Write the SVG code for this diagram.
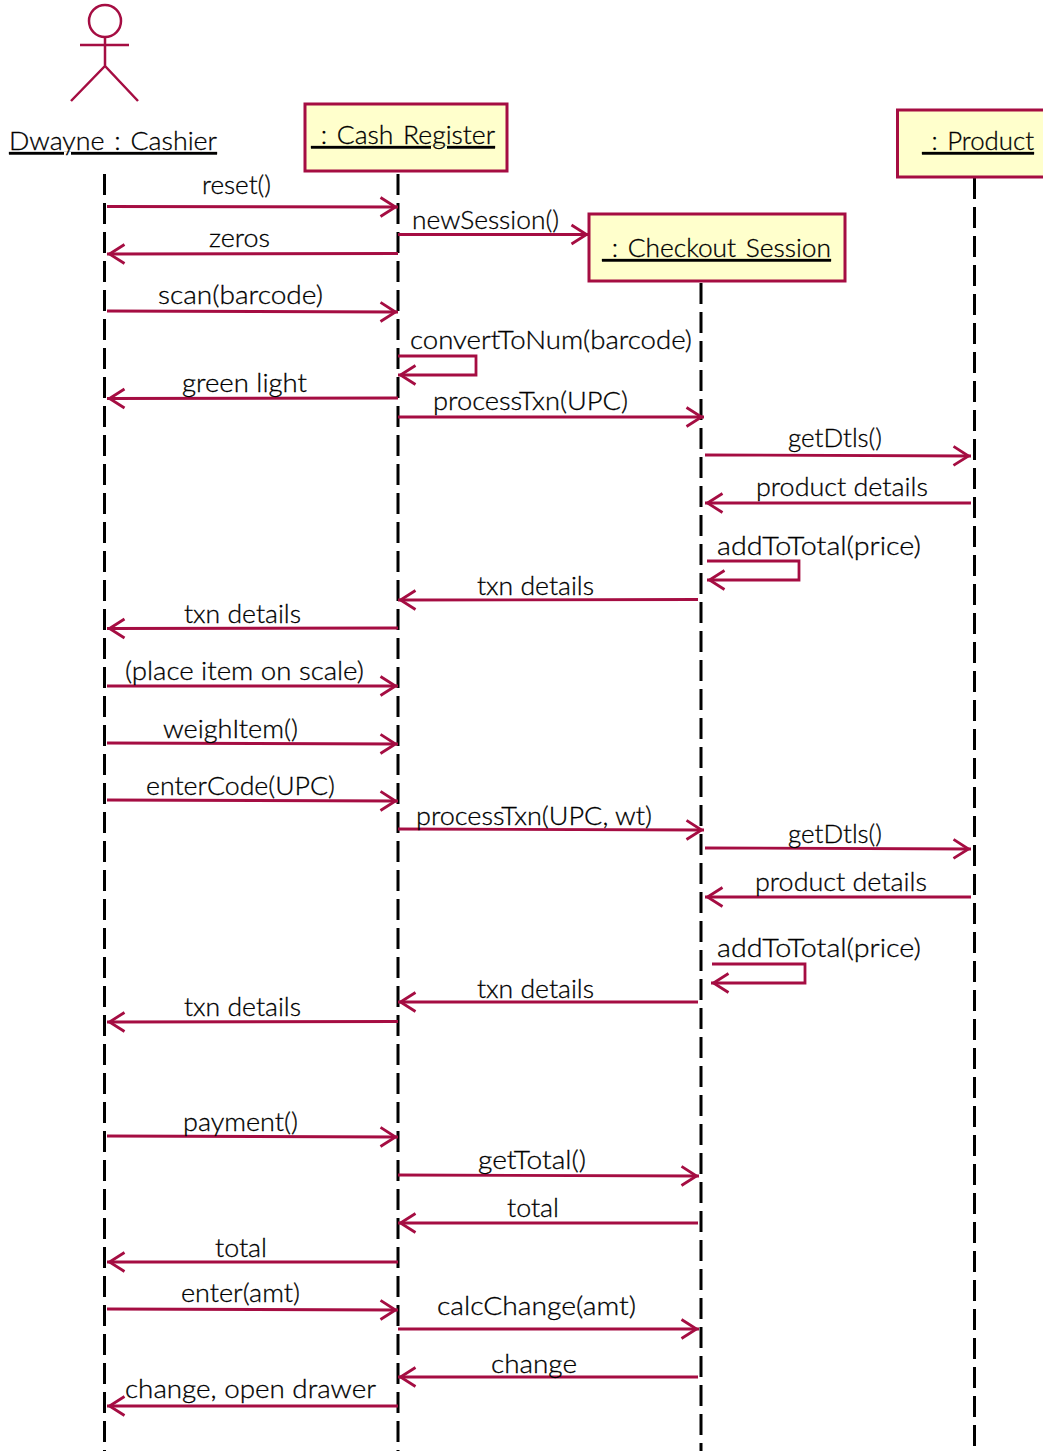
<svg xmlns="http://www.w3.org/2000/svg" width="1043" height="1451" viewBox="0 0 1043 1451">
<style>
text{font-family:"Lato","Liberation Sans",sans-serif;font-size:26px;font-weight:300;fill:#000;stroke:#000;stroke-width:0.300px;white-space:pre}
.u{text-decoration:underline;text-decoration-thickness:2px;word-spacing:2.500px}
.box{fill:#ffffcc;stroke:#a50d42;stroke-width:3}
.actor{fill:none;stroke:#a50d42;stroke-width:2.500}
.life{stroke:#000;stroke-width:3;stroke-dasharray:21 8;fill:none}
.msg{fill:none;stroke:#a50d42;stroke-width:2.800;marker-end:url(#open)}
</style>
<defs>
<marker id="open" markerUnits="userSpaceOnUse" markerWidth="24" markerHeight="26" refX="21" refY="13" orient="auto">
<path d="M3.500,3.500 L18.500,13 L3.500,22.500" fill="none" stroke="#a50d42" stroke-width="2.800"/>
</marker>
</defs>
<rect width="1043" height="1451" fill="#fff"/>
<g id="lifelines">
<path class="life" d="M104.500,174V1451"/>
<path class="life" d="M398,174V1451"/>
<path class="life" d="M701,283V1451"/>
<path class="life" d="M974.500,178V1451"/>
</g>
<g id="cashier">
<circle class="actor" cx="105" cy="21" r="16"/>
<path class="actor" d="M80,45H129M105,37V66M71,101L105,66L138,101"/>
<text class="u" x="9" y="150" textLength="208" lengthAdjust="spacingAndGlyphs">Dwayne : Cashier</text>
</g>
<g id="cash-register">
<rect class="box" x="305" y="104" width="202" height="67"/>
<text class="u" x="311" y="144" textLength="184" lengthAdjust="spacingAndGlyphs"> : Cash Register</text>
</g>
<g id="checkout-session">
<rect class="box" x="589" y="214" width="256" height="67"/>
<text class="u" x="602" y="257" textLength="229" lengthAdjust="spacingAndGlyphs"> : Checkout Session</text>
</g>
<g id="product">
<rect class="box" x="897.500" y="110" width="160" height="67"/>
<text class="u" x="922" y="150" textLength="112" lengthAdjust="spacingAndGlyphs"> : Product</text>
</g>
<g id="connectors">
<path class="msg" d="M107,206.500L398,207"/>
<path class="msg" d="M398,234.500H589"/>
<path class="msg" d="M398,253.500L107,254"/>
<path class="msg" d="M107,311L398,312"/>
<path class="msg" d="M398,356H476V375H398"/>
<path class="msg" d="M398,398L107,398.500"/>
<path class="msg" d="M398,417H704"/>
<path class="msg" d="M705,455L971,456"/>
<path class="msg" d="M971,503H705"/>
<path class="msg" d="M707,561H799V580H707"/>
<path class="msg" d="M698,599.500L398,600"/>
<path class="msg" d="M398,628L107,628.500"/>
<path class="msg" d="M107,686H398"/>
<path class="msg" d="M107,743L398,744"/>
<path class="msg" d="M107,800L398,801"/>
<path class="msg" d="M398,829L704,830"/>
<path class="msg" d="M705,848L971,849"/>
<path class="msg" d="M971,897H705"/>
<path class="msg" d="M712,964H805V983H711"/>
<path class="msg" d="M698,1002H398"/>
<path class="msg" d="M398,1021.500L107,1022"/>
<path class="msg" d="M107,1136L398,1137"/>
<path class="msg" d="M398,1175L699,1176"/>
<path class="msg" d="M698,1223H398"/>
<path class="msg" d="M398,1262H107"/>
<path class="msg" d="M107,1309L398,1310"/>
<path class="msg" d="M398,1329H699"/>
<path class="msg" d="M698,1377H398"/>
<path class="msg" d="M398,1406H107"/>
</g>
<g id="labels" transform="translate(0,-1)">
<text x="202" y="195" textLength="69" lengthAdjust="spacingAndGlyphs">reset()</text>
<text x="412" y="230" textLength="147" lengthAdjust="spacingAndGlyphs">newSession()</text>
<text x="209" y="248" textLength="61" lengthAdjust="spacingAndGlyphs">zeros</text>
<text x="158" y="305" textLength="165" lengthAdjust="spacingAndGlyphs">scan(barcode)</text>
<text x="410" y="350" textLength="282" lengthAdjust="spacingAndGlyphs">convertToNum(barcode)</text>
<text x="182" y="393" textLength="125" lengthAdjust="spacingAndGlyphs">green light</text>
<text x="433" y="411" textLength="195" lengthAdjust="spacingAndGlyphs">processTxn(UPC)</text>
<text x="788" y="448" textLength="94" lengthAdjust="spacingAndGlyphs">getDtls()</text>
<text x="756" y="497" textLength="172" lengthAdjust="spacingAndGlyphs">product details</text>
<text x="717" y="556" textLength="204" lengthAdjust="spacingAndGlyphs">addToTotal(price)</text>
<text x="477" y="596" textLength="117" lengthAdjust="spacingAndGlyphs">txn details</text>
<text x="184" y="624" textLength="117" lengthAdjust="spacingAndGlyphs">txn details</text>
<text x="125" y="681" textLength="239" lengthAdjust="spacingAndGlyphs">(place item on scale)</text>
<text x="163" y="739" textLength="135" lengthAdjust="spacingAndGlyphs">weighItem()</text>
<text x="146" y="796" textLength="189" lengthAdjust="spacingAndGlyphs">enterCode(UPC)</text>
<text x="416" y="826" textLength="236" lengthAdjust="spacingAndGlyphs">processTxn(UPC, wt)</text>
<text x="788" y="844" textLength="94" lengthAdjust="spacingAndGlyphs">getDtls()</text>
<text x="755" y="892" textLength="172" lengthAdjust="spacingAndGlyphs">product details</text>
<text x="717" y="958" textLength="204" lengthAdjust="spacingAndGlyphs">addToTotal(price)</text>
<text x="477" y="999" textLength="117" lengthAdjust="spacingAndGlyphs">txn details</text>
<text x="184" y="1017" textLength="117" lengthAdjust="spacingAndGlyphs">txn details</text>
<text x="183" y="1132" textLength="115" lengthAdjust="spacingAndGlyphs">payment()</text>
<text x="478" y="1170" textLength="108" lengthAdjust="spacingAndGlyphs">getTotal()</text>
<text x="507" y="1218" textLength="52" lengthAdjust="spacingAndGlyphs">total</text>
<text x="215" y="1258" textLength="52" lengthAdjust="spacingAndGlyphs">total</text>
<text x="181" y="1303" textLength="119" lengthAdjust="spacingAndGlyphs">enter(amt)</text>
<text x="437" y="1316" textLength="199" lengthAdjust="spacingAndGlyphs">calcChange(amt)</text>
<text x="491" y="1374" textLength="86" lengthAdjust="spacingAndGlyphs">change</text>
<text x="125" y="1399" textLength="251" lengthAdjust="spacingAndGlyphs">change, open drawer</text>
</g>
</svg>
